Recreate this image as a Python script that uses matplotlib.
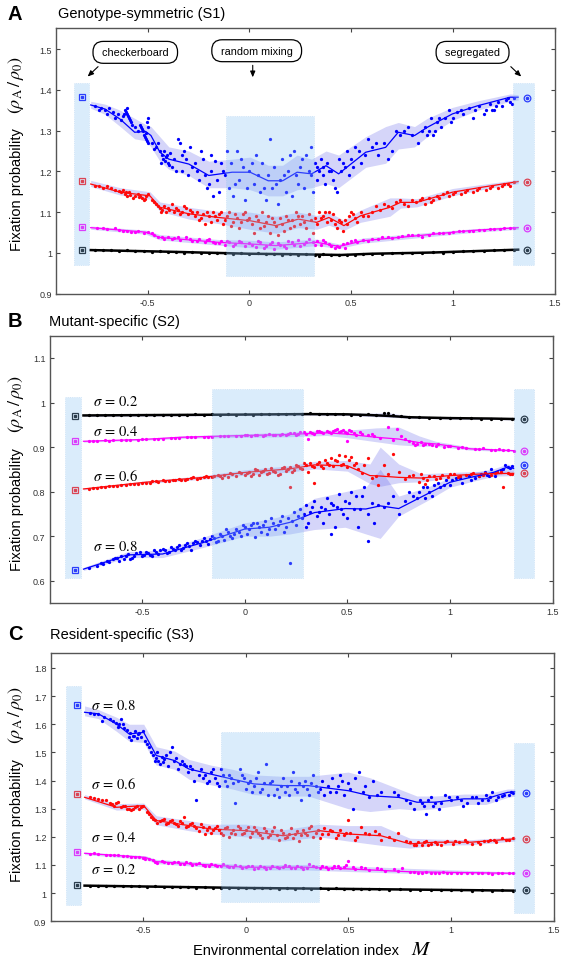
import numpy as np
import matplotlib
matplotlib.use('Agg')
import matplotlib.pyplot as plt
from matplotlib.patches import Rectangle
from matplotlib.ticker import FuncFormatter

plt.rcParams['font.family'] = ['Liberation Sans', 'DejaVu Sans']
plt.rcParams['mathtext.fontset'] = 'stix'

# ---------------- data ----------------
x_ticks = [-0.5, 0, 0.5, 1, 1.5]
A_yticks = [0.9, 1.0, 1.1, 1.2, 1.3, 1.4, 1.5]
B_yticks = [0.6, 0.7, 0.8, 0.9, 1.0, 1.1]
C_yticks = [0.9, 1.0, 1.1, 1.2, 1.3, 1.4, 1.5, 1.6, 1.7, 1.8]

panel_titles = ["Genotype-symmetric (S1)", "Mutant-specific (S2)", "Resident-specific (S3)"]
panel_letters = ["A", "B", "C"]
callout_labels = ["checkerboard", "random mixing", "segregated"]
sigma_labels = ["0.2", "0.4", "0.6", "0.8"]

# Panel A ------------------------------------------------------------
A_blue_tx = [-0.78, -0.71, -0.635, -0.564, -0.51, -0.484, -0.44, -0.396, -0.298, -0.2, -0.085, 0.003, 0.092, 0.163, 0.234, 0.305, 0.376, 0.438, 0.571, 0.669, 0.731, 0.811, 0.873, 0.997, 1.121, 1.281, 1.32]
A_blue_ty = [1.363, 1.353, 1.328, 1.296, 1.298, 1.288, 1.247, 1.230, 1.218, 1.190, 1.198, 1.198, 1.177, 1.177, 1.198, 1.194, 1.214, 1.194, 1.247, 1.259, 1.296, 1.288, 1.308, 1.341, 1.361, 1.382, 1.382]
A_blue_lo = [1.355, 1.34, 1.31, 1.28, 1.275, 1.26, 1.225, 1.205, 1.19, 1.16, 1.16, 1.155, 1.14, 1.14, 1.155, 1.16, 1.17, 1.16, 1.21, 1.22, 1.255, 1.26, 1.285, 1.325, 1.35, 1.372, 1.375]
A_blue_hi = [1.372, 1.365, 1.35, 1.33, 1.315, 1.31, 1.285, 1.26, 1.25, 1.225, 1.23, 1.235, 1.215, 1.215, 1.24, 1.23, 1.25, 1.24, 1.285, 1.31, 1.32, 1.31, 1.33, 1.357, 1.373, 1.39, 1.388]
A_blue_pts = [(-0.76,1.36),(-0.73,1.355),(-0.71,1.35),(-0.7,1.34),(-0.67,1.345),(-0.66,1.33),(-0.62,1.335),(-0.61,1.35),(-0.605,1.345),(-0.6,1.34),(-0.595,1.335),(-0.59,1.33),(-0.585,1.325),(-0.6,1.355),(-0.56,1.31),(-0.55,1.3),(-0.54,1.315),(-0.53,1.305),(-0.525,1.3),(-0.52,1.29),(-0.515,1.285),(-0.51,1.28),(-0.505,1.275),(-0.5,1.31),(-0.505,1.32),(-0.5,1.33),(-0.48,1.27),(-0.46,1.26),(-0.45,1.27),(-0.43,1.24),(-0.425,1.23),(-0.42,1.25),(-0.415,1.225),(-0.41,1.235),(-0.4,1.22),(-0.39,1.245),(-0.38,1.21),(-0.36,1.2),(-0.35,1.28),(-0.34,1.27),(-0.33,1.24),(-0.31,1.23),(-0.3,1.19),(-0.29,1.26),(-0.27,1.22),(-0.26,1.2),(-0.25,1.18),(-0.24,1.25),(-0.22,1.19),(-0.2,1.17),(-0.19,1.2),(-0.18,1.14),(-0.17,1.225),(-0.16,1.18),(-0.15,1.15),(-0.13,1.2),(-0.12,1.19),(-0.1,1.16),(-0.09,1.22),(-0.08,1.14),(-0.06,1.25),(-0.05,1.18),(-0.03,1.21),(-0.02,1.13),(0.0,1.2),(0.02,1.17),(0.03,1.24),(0.05,1.15),(0.06,1.22),(0.08,1.13),(0.09,1.19),(0.1,1.28),(0.11,1.16),(0.12,1.21),(0.14,1.12),(0.15,1.18),(0.16,1.23),(0.18,1.15),(0.19,1.2),(0.21,1.14),(0.22,1.25),(0.24,1.17),(0.25,1.21),(0.27,1.16),(0.28,1.24),(0.3,1.19),(0.31,1.15),(0.32,1.22),(0.33,1.18),(0.34,1.2),(0.35,1.23),(0.36,1.21),(0.37,1.17),(0.38,1.22),(0.4,1.2),(0.41,1.18),(0.42,1.16),(0.43,1.15),(0.45,1.2),(0.46,1.22),(0.47,1.21),(0.48,1.25),(0.5,1.23),(0.52,1.26),(0.55,1.22),(0.58,1.28),(0.6,1.26),(0.63,1.24),(0.66,1.27),(0.7,1.25),(0.72,1.3),(0.76,1.3),(0.8,1.29),(0.83,1.27),(0.86,1.31),(0.88,1.3),(0.89,1.33),(0.9,1.29),(0.92,1.32),(0.94,1.31),(0.96,1.33),(0.98,1.35),(1.0,1.33),(1.02,1.345),(1.05,1.34),(1.08,1.355),(1.1,1.33),(1.13,1.36),(1.16,1.35),(1.18,1.365),(1.2,1.35),(1.22,1.37),(1.24,1.36),(1.26,1.375),(1.28,1.37),(1.3,1.38)]
A_blue_pts_b = [(-0.74,1.35),(-0.69,1.355),(-0.645,1.34),(-0.63,1.325),(-0.615,1.34),(-0.58,1.32),(-0.575,1.315),(-0.535,1.31),(-0.51,1.295),(-0.5,1.27),(-0.47,1.255),(-0.44,1.25),(-0.435,1.22),(-0.405,1.24),(-0.395,1.215),(-0.37,1.23),(-0.33,1.2),(-0.32,1.25),(-0.28,1.21),(-0.23,1.23),(-0.21,1.16),(-0.19,1.24),(-0.14,1.22),(-0.11,1.25),(-0.07,1.17),(-0.04,1.23),(-0.01,1.16),(0.01,1.22),(0.04,1.19),(0.07,1.16),(0.13,1.17),(0.17,1.19),(0.2,1.24),(0.23,1.19),(0.26,1.23),(0.29,1.2),(0.3,1.26),(0.33,1.21),(0.36,1.19),(0.39,1.2),(0.44,1.23),(0.49,1.19),(0.51,1.21),(0.54,1.25),(0.57,1.24),(0.62,1.27),(0.68,1.23),(0.74,1.29),(0.78,1.31),(0.85,1.3),(0.87,1.29),(0.91,1.3),(0.93,1.33),(0.99,1.32),(1.04,1.35),(1.11,1.35),(1.15,1.34),(1.19,1.35),(1.21,1.36),(1.27,1.38),(1.29,1.365)]

A_red_tx = [-0.78, -0.635, -0.489, -0.44, -0.298, -0.153, 0.003, 0.13, 0.24, 0.33, 0.39, 0.464, 0.545, 0.69, 0.742, 0.822, 0.997, 1.14, 1.32]
A_red_ty = [1.169, 1.149, 1.140, 1.112, 1.096, 1.087, 1.079, 1.067, 1.083, 1.075, 1.087, 1.067, 1.091, 1.112, 1.124, 1.124, 1.149, 1.161, 1.175]
A_red_lo = [1.163, 1.142, 1.132, 1.102, 1.083, 1.072, 1.058, 1.048, 1.062, 1.058, 1.068, 1.055, 1.075, 1.09, 1.11, 1.113, 1.14, 1.155, 1.17]
A_red_hi = [1.178, 1.16, 1.15, 1.125, 1.112, 1.102, 1.1, 1.09, 1.1, 1.092, 1.1, 1.08, 1.105, 1.135, 1.135, 1.133, 1.158, 1.168, 1.18]
A_red_pts = [(-0.76,1.165),(-0.72,1.16),(-0.7,1.165),(-0.66,1.155),(-0.63,1.15),(-0.62,1.155),(-0.61,1.145),(-0.6,1.14),(-0.59,1.15),(-0.57,1.135),(-0.55,1.145),(-0.54,1.14),(-0.53,1.135),(-0.52,1.13),(-0.51,1.14),(-0.5,1.145),(-0.48,1.13),(-0.46,1.12),(-0.44,1.11),(-0.43,1.105),(-0.42,1.115),(-0.41,1.1),(-0.4,1.11),(-0.38,1.12),(-0.37,1.1),(-0.35,1.105),(-0.33,1.1),(-0.32,1.115),(-0.3,1.095),(-0.29,1.105),(-0.27,1.09),(-0.26,1.1),(-0.25,1.08),(-0.23,1.095),(-0.22,1.07),(-0.2,1.09),(-0.18,1.1),(-0.16,1.08),(-0.15,1.095),(-0.13,1.07),(-0.11,1.09),(-0.1,1.1),(-0.08,1.075),(-0.06,1.085),(-0.05,1.06),(-0.03,1.095),(-0.01,1.08),(0.01,1.07),(0.03,1.09),(0.05,1.06),(0.06,1.1),(0.08,1.075),(0.1,1.05),(0.11,1.085),(0.13,1.065),(0.14,1.045),(0.16,1.07),(0.18,1.09),(0.2,1.06),(0.21,1.08),(0.23,1.1),(0.25,1.07),(0.26,1.09),(0.28,1.06),(0.3,1.08),(0.31,1.05),(0.33,1.07),(0.34,1.1),(0.35,1.085),(0.36,1.09),(0.38,1.075),(0.39,1.1),(0.4,1.08),(0.42,1.07),(0.43,1.06),(0.45,1.075),(0.46,1.055),(0.47,1.08),(0.49,1.09),(0.5,1.1),(0.52,1.085),(0.55,1.1),(0.58,1.09),(0.62,1.115),(0.66,1.12),(0.7,1.11),(0.74,1.13),(0.78,1.115),(0.82,1.125),(0.84,1.13),(0.86,1.12),(0.88,1.135),(0.9,1.13),(0.92,1.14),(0.95,1.145),(0.98,1.14),(1.01,1.15),(1.04,1.145),(1.07,1.155),(1.1,1.15),(1.13,1.16),(1.16,1.155),(1.19,1.165),(1.22,1.16),(1.25,1.17),(1.28,1.165),(1.3,1.175)]
A_red_pts_b = [(-0.74,1.163),(-0.68,1.16),(-0.64,1.152),(-0.605,1.15),(-0.585,1.142),(-0.56,1.14),(-0.545,1.136),(-0.515,1.132),(-0.47,1.125),(-0.45,1.115),(-0.435,1.1),(-0.395,1.105),(-0.36,1.11),(-0.34,1.095),(-0.31,1.11),(-0.28,1.1),(-0.24,1.085),(-0.21,1.1),(-0.19,1.075),(-0.17,1.09),(-0.14,1.1),(-0.12,1.08),(-0.09,1.065),(-0.07,1.095),(-0.04,1.075),(-0.02,1.1),(0.0,1.085),(0.02,1.05),(0.04,1.08),(0.07,1.065),(0.09,1.09),(0.12,1.075),(0.15,1.085),(0.17,1.055),(0.19,1.08),(0.22,1.065),(0.24,1.09),(0.27,1.075),(0.29,1.095),(0.32,1.085),(0.37,1.1),(0.41,1.095),(0.44,1.08),(0.48,1.07),(0.51,1.095),(0.53,1.075),(0.56,1.09),(0.6,1.1),(0.64,1.105),(0.68,1.115),(0.72,1.125),(0.76,1.12),(0.8,1.13),(0.85,1.135),(0.89,1.125),(0.93,1.135),(0.97,1.15),(1.0,1.145),(1.06,1.15),(1.12,1.155),(1.18,1.16),(1.24,1.165),(1.27,1.17)]

A_mag_tx = [-0.78, -0.51, -0.44, -0.153, 0.003, 0.13, 0.33, 0.44, 0.56, 0.822, 1.09, 1.32]
A_mag_ty = [1.062, 1.051, 1.038, 1.026, 1.022, 1.018, 1.026, 1.016, 1.030, 1.042, 1.055, 1.062]
A_mag_lo = [1.058, 1.046, 1.032, 1.019, 1.013, 1.009, 1.018, 1.011, 1.024, 1.037, 1.05, 1.058]
A_mag_hi = [1.066, 1.056, 1.045, 1.033, 1.031, 1.027, 1.034, 1.022, 1.037, 1.048, 1.059, 1.066]
A_mag_pts = [(-0.75,1.06),(-0.7,1.058),(-0.66,1.06),(-0.62,1.055),(-0.58,1.052),(-0.55,1.054),(-0.52,1.05),(-0.5,1.052),(-0.47,1.045),(-0.45,1.04),(-0.42,1.035),(-0.4,1.04),(-0.37,1.036),(-0.34,1.032),(-0.31,1.038),(-0.28,1.03),(-0.25,1.034),(-0.22,1.028),(-0.2,1.033),(-0.17,1.025),(-0.14,1.03),(-0.12,1.02),(-0.1,1.028),(-0.07,1.022),(-0.05,1.03),(-0.02,1.018),(0.0,1.025),(0.03,1.015),(0.05,1.028),(0.07,1.012),(0.1,1.022),(0.12,1.01),(0.14,1.025),(0.17,1.016),(0.19,1.03),(0.22,1.02),(0.24,1.032),(0.27,1.022),(0.29,1.035),(0.31,1.026),(0.33,1.03),(0.35,1.02),(0.37,1.028),(0.4,1.018),(0.42,1.012),(0.44,1.015),(0.46,1.022),(0.48,1.025),(0.5,1.03),(0.53,1.028),(0.56,1.032),(0.6,1.035),(0.65,1.038),(0.7,1.036),(0.75,1.042),(0.8,1.045),(0.85,1.04),(0.9,1.048),(0.95,1.05),(1.0,1.052),(1.05,1.053),(1.1,1.055),(1.15,1.057),(1.2,1.058),(1.25,1.06),(1.3,1.062)]
A_mag_pts_b = [(-0.72,1.061),(-0.64,1.057),(-0.6,1.054),(-0.56,1.051),(-0.48,1.048),(-0.43,1.038),(-0.38,1.034),(-0.35,1.04),(-0.29,1.034),(-0.26,1.029),(-0.21,1.031),(-0.18,1.027),(-0.15,1.024),(-0.11,1.03),(-0.08,1.018),(-0.04,1.026),(0.01,1.02),(0.04,1.03),(0.08,1.018),(0.11,1.028),(0.15,1.02),(0.18,1.012),(0.21,1.026),(0.25,1.018),(0.28,1.028),(0.32,1.02),(0.36,1.032),(0.39,1.022),(0.43,1.018),(0.47,1.012),(0.52,1.032),(0.58,1.03),(0.63,1.034),(0.68,1.04),(0.73,1.038),(0.78,1.043),(0.83,1.044),(0.88,1.045),(0.93,1.049),(0.98,1.05),(1.03,1.054),(1.08,1.054),(1.13,1.056),(1.18,1.059),(1.23,1.059),(1.28,1.061)]

A_blk_tx = [-0.78, -0.4, 0.0, 0.2, 0.45, 0.6, 0.9, 1.32]
A_blk_ty = [1.007, 1.003, 0.998, 0.997, 0.995, 0.998, 1.001, 1.008]
A_blk_pts = [(-0.76,1.007),(-0.72,1.006),(-0.68,1.007),(-0.64,1.005),(-0.6,1.006),(-0.56,1.004),(-0.52,1.005),(-0.48,1.003),(-0.44,1.004),(-0.4,1.002),(-0.36,1.003),(-0.32,1.001),(-0.28,1.002),(-0.24,1.0),(-0.2,1.001),(-0.16,0.999),(-0.12,1.0),(-0.08,0.998),(-0.04,0.999),(0.0,0.997),(0.04,0.999),(0.08,0.997),(0.12,0.998),(0.16,0.996),(0.2,0.998),(0.24,0.996),(0.28,0.997),(0.32,0.995),(0.34,0.992),(0.36,0.997),(0.4,0.995),(0.44,0.994),(0.48,0.996),(0.52,0.995),(0.56,0.997),(0.6,0.998),(0.65,0.997),(0.7,0.999),(0.75,1.0),(0.8,0.999),(0.85,1.001),(0.9,1.002),(0.95,1.001),(1.0,1.003),(1.05,1.004),(1.1,1.005),(1.15,1.004),(1.2,1.006),(1.25,1.007),(1.3,1.008)]

A_left_end = [1.383, 1.177, 1.064, 1.007]     # blue, red, magenta, black
A_right_end = [1.380, 1.174, 1.062, 1.0065]

# Panel B ------------------------------------------------------------
B_blk_tx = [-0.785, -0.4, 0.0, 0.3, 0.5, 0.6, 0.7, 0.8, 1.0, 1.2, 1.31]
B_blk_ty = [0.971, 0.972, 0.973, 0.974, 0.9735, 0.972, 0.970, 0.967, 0.965, 0.964, 0.963]
B_blk_lo = [0.969, 0.970, 0.971, 0.972, 0.971, 0.969, 0.967, 0.965, 0.963, 0.962, 0.961]
B_blk_hi = [0.973, 0.974, 0.975, 0.976, 0.976, 0.976, 0.977, 0.970, 0.967, 0.966, 0.965]
B_blk_pts = [(-0.76,0.971),(-0.72,0.9715),(-0.68,0.971),(-0.64,0.972),(-0.6,0.9712),(-0.56,0.9718),(-0.52,0.971),(-0.48,0.972),(-0.44,0.9715),(-0.4,0.9722),(-0.36,0.972),(-0.32,0.9728),(-0.28,0.972),(-0.24,0.9732),(-0.2,0.9725),(-0.16,0.9735),(-0.12,0.9728),(-0.08,0.974),(-0.04,0.973),(0.0,0.9738),(0.04,0.973),(0.08,0.9742),(0.12,0.9735),(0.16,0.9745),(0.2,0.9738),(0.24,0.975),(0.28,0.974),(0.32,0.9755),(0.36,0.974),(0.4,0.9752),(0.44,0.9738),(0.48,0.9748),(0.52,0.973),(0.56,0.972),(0.6,0.974),(0.64,0.9715),(0.68,0.9755),(0.7,0.977),(0.72,0.971),(0.76,0.969),(0.8,0.968),(0.85,0.9665),(0.9,0.966),(0.95,0.9655),(1.0,0.965),(1.05,0.9648),(1.1,0.9645),(1.15,0.964),(1.2,0.964),(1.25,0.9635),(1.3,0.963)]

B_mag_tx = [-0.785, -0.5, -0.31, 0.0, 0.2, 0.4, 0.5, 0.64, 0.75, 0.85, 0.93, 1.1, 1.31]
B_mag_ty = [0.913, 0.917, 0.922, 0.926, 0.928, 0.932, 0.929, 0.922, 0.918, 0.910, 0.907, 0.896, 0.892]
B_mag_lo = [0.911, 0.915, 0.919, 0.922, 0.923, 0.926, 0.921, 0.912, 0.905, 0.902, 0.902, 0.893, 0.89]
B_mag_hi = [0.915, 0.919, 0.925, 0.930, 0.933, 0.938, 0.938, 0.943, 0.945, 0.925, 0.913, 0.9, 0.894]
B_mag_pts = [(-0.76,0.9135),(-0.72,0.914),(-0.68,0.915),(-0.64,0.9148),(-0.6,0.916),(-0.56,0.9155),(-0.52,0.917),(-0.48,0.9175),(-0.44,0.9185),(-0.4,0.919),(-0.36,0.9205),(-0.32,0.921),(-0.28,0.922),(-0.24,0.9225),(-0.2,0.923),(-0.16,0.9235),(-0.12,0.924),(-0.08,0.925),(-0.04,0.9245),(0.0,0.926),(0.03,0.924),(0.06,0.928),(0.09,0.925),(0.12,0.929),(0.15,0.926),(0.18,0.93),(0.2,0.927),(0.22,0.931),(0.25,0.928),(0.27,0.933),(0.3,0.93),(0.32,0.934),(0.34,0.929),(0.36,0.935),(0.38,0.931),(0.4,0.936),(0.42,0.932),(0.44,0.938),(0.46,0.934),(0.48,0.939),(0.5,0.931),(0.52,0.935),(0.54,0.928),(0.57,0.93),(0.6,0.926),(0.63,0.924),(0.66,0.92),(0.7,0.944),(0.72,0.915),(0.74,0.941),(0.78,0.918),(0.8,0.913),(0.83,0.905),(0.86,0.911),(0.88,0.908),(0.91,0.904),(0.94,0.906),(0.97,0.901),(1.0,0.903),(1.04,0.899),(1.08,0.898),(1.12,0.895),(1.16,0.897),(1.2,0.894),(1.24,0.895),(1.28,0.893),(1.31,0.892),(0.5,0.914),(0.31,0.918)]
B_mag_pts_b = [(-0.74,0.9138),(-0.66,0.9146),(-0.58,0.9158),(-0.5,0.9172),(-0.42,0.919),(-0.34,0.9208),(-0.26,0.9222),(-0.18,0.9232),(-0.1,0.9245),(-0.02,0.9255),(0.01,0.9275),(0.05,0.926),(0.1,0.927),(0.14,0.928),(0.17,0.9265),(0.21,0.929),(0.24,0.932),(0.26,0.929),(0.29,0.933),(0.33,0.931),(0.35,0.937),(0.37,0.933),(0.41,0.934),(0.43,0.935),(0.45,0.94),(0.47,0.936),(0.49,0.934),(0.51,0.938),(0.53,0.932),(0.56,0.934),(0.62,0.93),(0.76,0.925),(0.82,0.91),(0.84,0.908),(0.87,0.905),(0.9,0.907),(0.93,0.903),(0.99,0.902),(1.06,0.9),(1.14,0.896),(1.22,0.894),(1.26,0.893)]

B_red_tx = [-0.785, -0.485, -0.2, 0.0, 0.22, 0.34, 0.5, 0.61, 0.66, 0.75, 0.86, 1.0, 1.17, 1.31]
B_red_ty = [0.806, 0.821, 0.832, 0.843, 0.851, 0.860, 0.858, 0.836, 0.835, 0.832, 0.8305, 0.836, 0.840, 0.841]
B_red_lo = [0.804, 0.818, 0.828, 0.837, 0.844, 0.851, 0.846, 0.818, 0.812, 0.82, 0.822, 0.83, 0.834, 0.836]
B_red_hi = [0.808, 0.824, 0.836, 0.849, 0.858, 0.868, 0.87, 0.862, 0.900, 0.862, 0.84, 0.843, 0.846, 0.846]
B_red_pts = [(-0.76,0.807),(-0.72,0.809),(-0.68,0.811),(-0.64,0.812),(-0.6,0.814),(-0.56,0.816),(-0.52,0.818),(-0.5,0.82),(-0.48,0.819),(-0.45,0.823),(-0.42,0.822),(-0.4,0.825),(-0.37,0.824),(-0.34,0.827),(-0.31,0.826),(-0.28,0.829),(-0.26,0.83),(-0.23,0.828),(-0.2,0.833),(-0.18,0.832),(-0.15,0.836),(-0.12,0.834),(-0.1,0.838),(-0.08,0.833),(-0.06,0.84),(-0.04,0.836),(-0.02,0.842),(0.0,0.838),(0.02,0.845),(0.04,0.84),(0.06,0.848),(0.08,0.843),(0.1,0.85),(0.12,0.842),(0.14,0.847),(0.16,0.838),(0.18,0.852),(0.2,0.846),(0.22,0.855),(0.24,0.849),(0.26,0.858),(0.28,0.85),(0.3,0.86),(0.31,0.845),(0.32,0.865),(0.34,0.855),(0.36,0.867),(0.38,0.852),(0.4,0.865),(0.42,0.875),(0.43,0.858),(0.45,0.868),(0.46,0.882),(0.48,0.862),(0.49,0.88),(0.5,0.855),(0.51,0.87),(0.53,0.86),(0.55,0.85),(0.57,0.842),(0.22,0.81),(0.34,0.82),(0.6,0.875),(0.62,0.83),(0.65,0.815),(0.68,0.86),(0.72,0.885),(0.75,0.845),(0.78,0.828),(0.82,0.838),(0.85,0.822),(0.87,0.83),(0.88,0.818),(0.9,0.835),(0.93,0.828),(0.96,0.838),(0.99,0.832),(1.02,0.84),(1.05,0.835),(1.08,0.838),(1.11,0.842),(1.14,0.836),(1.17,0.842),(1.2,0.838),(1.23,0.844),(1.26,0.81),(1.28,0.842),(1.3,0.84)]
B_red_pts_b = [(-0.74,0.808),(-0.7,0.81),(-0.66,0.812),(-0.62,0.813),(-0.58,0.815),(-0.54,0.817),(-0.46,0.82),(-0.43,0.824),(-0.39,0.823),(-0.35,0.826),(-0.32,0.828),(-0.29,0.827),(-0.25,0.832),(-0.22,0.83),(-0.19,0.835),(-0.16,0.832),(-0.13,0.838),(-0.11,0.83),(-0.07,0.842),(-0.03,0.845),(0.01,0.842),(0.03,0.835),(0.05,0.85),(0.07,0.838),(0.09,0.846),(0.11,0.84),(0.13,0.853),(0.15,0.845),(0.17,0.84),(0.19,0.856),(0.21,0.85),(0.23,0.845),(0.25,0.86),(0.27,0.852),(0.29,0.865),(0.33,0.858),(0.35,0.862),(0.37,0.858),(0.39,0.87),(0.41,0.86),(0.44,0.872),(0.47,0.86),(0.52,0.878),(0.54,0.865),(0.58,0.86),(0.64,0.835),(0.7,0.84),(0.8,0.835),(0.86,0.84),(0.89,0.826),(0.92,0.835),(0.95,0.83),(1.0,0.84),(1.04,0.832),(1.1,0.84),(1.16,0.838),(1.22,0.842),(1.25,0.845),(1.29,0.84)]

B_blue_tx = [-0.785, -0.57, -0.4, -0.2, 0.0, 0.12, 0.22, 0.34, 0.49, 0.59, 0.66, 0.75, 0.89, 1.0, 1.1, 1.21, 1.28, 1.31]
B_blue_ty = [0.626, 0.658, 0.660, 0.686, 0.716, 0.720, 0.731, 0.753, 0.762, 0.761, 0.768, 0.762, 0.795, 0.821, 0.832, 0.843, 0.855, 0.852]
B_blue_lo = [0.623, 0.652, 0.652, 0.675, 0.70, 0.70, 0.705, 0.715, 0.72, 0.705, 0.695, 0.745, 0.78, 0.81, 0.822, 0.834, 0.845, 0.845]
B_blue_hi = [0.630, 0.665, 0.669, 0.698, 0.73, 0.738, 0.75, 0.785, 0.80, 0.81, 0.85, 0.79, 0.81, 0.831, 0.842, 0.851, 0.862, 0.858]
B_blue_pts = [(-0.76,0.628),(-0.72,0.634),(-0.69,0.637),(-0.66,0.642),(-0.64,0.648),(-0.62,0.65),(-0.6,0.655),(-0.59,0.648),(-0.57,0.66),(-0.55,0.652),(-0.53,0.662),(-0.5,0.655),(-0.48,0.665),(-0.46,0.658),(-0.44,0.668),(-0.42,0.66),(-0.4,0.672),(-0.38,0.663),(-0.36,0.676),(-0.34,0.668),(-0.32,0.68),(-0.3,0.673),(-0.28,0.684),(-0.26,0.668),(-0.24,0.69),(-0.22,0.68),(-0.2,0.695),(-0.18,0.683),(-0.16,0.7),(-0.14,0.688),(-0.12,0.705),(-0.1,0.692),(-0.08,0.71),(-0.06,0.695),(-0.04,0.715),(-0.02,0.7),(0.0,0.72),(0.01,0.705),(0.03,0.725),(0.05,0.698),(0.06,0.73),(0.08,0.71),(0.1,0.735),(0.11,0.705),(0.13,0.74),(0.15,0.715),(0.16,0.725),(0.18,0.745),(0.2,0.72),(0.21,0.74),(0.22,0.64),(0.24,0.755),(0.25,0.725),(0.27,0.76),(0.28,0.74),(0.3,0.77),(0.31,0.73),(0.32,0.755),(0.34,0.78),(0.35,0.745),(0.37,0.765),(0.38,0.73),(0.4,0.785),(0.41,0.75),(0.43,0.77),(0.44,0.72),(0.46,0.795),(0.47,0.76),(0.49,0.78),(0.5,0.74),(0.52,0.8),(0.53,0.76),(0.55,0.72),(0.57,0.79),(0.6,0.75),(0.63,0.73),(0.65,0.77),(0.68,0.765),(0.72,0.79),(0.75,0.75),(0.78,0.78),(0.82,0.79),(0.85,0.8),(0.87,0.81),(0.88,0.785),(0.9,0.8),(0.92,0.815),(0.95,0.81),(0.98,0.825),(1.0,0.815),(1.03,0.83),(1.06,0.82),(1.09,0.835),(1.12,0.83),(1.15,0.84),(1.18,0.838),(1.2,0.85),(1.22,0.835),(1.25,0.848),(1.27,0.86),(1.29,0.852),(1.3,0.858),(0.3,0.72),(0.42,0.705),(0.6,0.69)]
B_blue_pts_b = [(-0.7,0.64),(-0.67,0.645),(-0.63,0.652),(-0.61,0.645),(-0.58,0.655),(-0.56,0.648),(-0.54,0.656),(-0.51,0.665),(-0.49,0.658),(-0.47,0.662),(-0.45,0.655),(-0.43,0.665),(-0.41,0.668),(-0.39,0.67),(-0.37,0.665),(-0.35,0.672),(-0.33,0.675),(-0.31,0.67),(-0.29,0.68),(-0.27,0.678),(-0.25,0.685),(-0.23,0.688),(-0.21,0.69),(-0.19,0.69),(-0.17,0.693),(-0.15,0.696),(-0.13,0.69),(-0.11,0.7),(-0.09,0.715),(-0.07,0.7),(-0.05,0.705),(-0.03,0.71),(-0.01,0.725),(0.02,0.715),(0.04,0.73),(0.07,0.72),(0.09,0.725),(0.12,0.715),(0.14,0.73),(0.17,0.735),(0.19,0.71),(0.23,0.735),(0.26,0.745),(0.29,0.75),(0.33,0.765),(0.36,0.755),(0.39,0.76),(0.42,0.775),(0.45,0.765),(0.48,0.75),(0.51,0.775),(0.54,0.79),(0.56,0.76),(0.58,0.81),(0.62,0.775),(0.7,0.775),(0.8,0.8),(0.84,0.785),(0.89,0.81),(0.91,0.79),(0.94,0.82),(0.97,0.815),(1.01,0.825),(1.05,0.83),(1.1,0.825),(1.14,0.835),(1.17,0.845),(1.19,0.835),(1.23,0.845),(1.26,0.85),(1.28,0.856)]

B_left_end = [0.624, 0.804, 0.913, 0.970]     # blue, red, magenta, black
B_right_end = [0.8605, 0.842, 0.892, 0.963]

# Panel C ------------------------------------------------------------
C_blue_tx = [-0.785, -0.718, -0.63, -0.568, -0.497, -0.436, -0.347, -0.277, -0.171, -0.065, 0.04, 0.182, 0.305, 0.499, 0.605, 0.746, 0.834, 0.922, 1.063, 1.169, 1.275, 1.31]
C_blue_ty = [1.6425, 1.637, 1.601, 1.5655, 1.571, 1.489, 1.471, 1.441, 1.423, 1.405, 1.388, 1.382, 1.382, 1.364, 1.346, 1.340, 1.323, 1.323, 1.335, 1.335, 1.358, 1.36]
C_blue_lo = [1.63, 1.62, 1.575, 1.54, 1.535, 1.455, 1.44, 1.405, 1.385, 1.37, 1.35, 1.345, 1.345, 1.30, 1.29, 1.30, 1.295, 1.30, 1.315, 1.315, 1.34, 1.345]
C_blue_hi = [1.665, 1.652, 1.625, 1.6, 1.6, 1.52, 1.505, 1.475, 1.455, 1.44, 1.42, 1.415, 1.415, 1.43, 1.41, 1.37, 1.345, 1.345, 1.352, 1.352, 1.37, 1.37]
C_blue_pts = [(-0.76,1.64),(-0.72,1.636),(-0.7,1.61),(-0.66,1.62),(-0.63,1.605),(-0.62,1.59),(-0.61,1.62),(-0.6,1.6),(-0.58,1.58),(-0.57,1.555),(-0.56,1.545),(-0.55,1.56),(-0.54,1.575),(-0.53,1.55),(-0.52,1.57),(-0.5,1.575),(-0.49,1.54),(-0.47,1.52),(-0.45,1.49),(-0.44,1.47),(-0.43,1.5),(-0.42,1.46),(-0.41,1.485),(-0.4,1.475),(-0.38,1.45),(-0.37,1.5),(-0.36,1.52),(-0.34,1.48),(-0.33,1.44),(-0.31,1.47),(-0.3,1.46),(-0.28,1.43),(-0.27,1.45),(-0.25,1.4),(-0.24,1.33),(-0.22,1.44),(-0.2,1.42),(-0.19,1.39),(-0.17,1.43),(-0.15,1.41),(-0.13,1.38),(-0.12,1.44),(-0.1,1.4),(-0.08,1.42),(-0.06,1.39),(-0.05,1.32),(-0.03,1.44),(-0.01,1.41),(0.0,1.37),(0.02,1.4),(0.04,1.38),(0.06,1.43),(0.07,1.36),(0.09,1.39),(0.1,1.46),(0.11,1.35),(0.13,1.4),(0.15,1.37),(0.16,1.34),(0.18,1.41),(0.2,1.38),(0.21,1.35),(0.23,1.43),(0.24,1.37),(0.26,1.39),(0.27,1.33),(0.29,1.4),(0.3,1.37),(0.31,1.35),(0.33,1.42),(0.34,1.38),(0.35,1.36),(0.37,1.4),(0.4,1.38),(0.42,1.41),(0.44,1.36),(0.46,1.42),(0.48,1.35),(0.5,1.39),(0.52,1.3),(0.55,1.43),(0.57,1.36),(0.6,1.34),(0.62,1.4),(0.66,1.36),(0.7,1.31),(0.74,1.35),(0.78,1.33),(0.82,1.3),(0.85,1.33),(0.87,1.31),(0.88,1.28),(0.9,1.34),(0.92,1.32),(0.94,1.3),(0.97,1.35),(1.0,1.33),(1.03,1.34),(1.06,1.31),(1.1,1.34),(1.13,1.32),(1.17,1.35),(1.18,1.33),(1.2,1.36),(1.23,1.34),(1.26,1.35),(1.29,1.36),(1.3,1.355)]
C_blue_pts_b = [(-0.74,1.635),(-0.69,1.625),(-0.645,1.61),(-0.615,1.6),(-0.595,1.585),(-0.565,1.57),(-0.545,1.56),(-0.525,1.565),(-0.51,1.555),(-0.48,1.53),(-0.46,1.5),(-0.435,1.48),(-0.425,1.47),(-0.405,1.465),(-0.39,1.49),(-0.35,1.47),(-0.32,1.46),(-0.29,1.45),(-0.26,1.44),(-0.23,1.42),(-0.21,1.41),(-0.18,1.4),(-0.16,1.44),(-0.14,1.39),(-0.11,1.42),(-0.09,1.38),(-0.07,1.41),(-0.04,1.4),(-0.02,1.42),(0.01,1.39),(0.03,1.36),(0.05,1.41),(0.08,1.37),(0.12,1.39),(0.14,1.35),(0.17,1.38),(0.19,1.36),(0.22,1.4),(0.25,1.36),(0.28,1.38),(0.32,1.39),(0.36,1.37),(0.38,1.35),(0.41,1.36),(0.45,1.38),(0.47,1.4),(0.51,1.37),(0.53,1.41),(0.58,1.38),(0.64,1.35),(0.72,1.36),(0.8,1.32),(0.86,1.32),(0.89,1.33),(0.91,1.31),(0.95,1.32),(0.99,1.34),(1.05,1.33),(1.08,1.32),(1.12,1.34),(1.15,1.33),(1.19,1.34),(1.22,1.33),(1.25,1.345),(1.28,1.35)]

C_red_tx = [-0.785, -0.63, -0.497, -0.436, -0.277, -0.171, 0.0, 0.182, 0.358, 0.5, 0.658, 0.8, 0.922, 1.099, 1.31]
C_red_ty = [1.3405, 1.305, 1.311, 1.258, 1.24, 1.228, 1.222, 1.204, 1.222, 1.21, 1.204, 1.175, 1.181, 1.181, 1.193]
C_red_lo = [1.335, 1.295, 1.298, 1.243, 1.222, 1.21, 1.2, 1.185, 1.2, 1.185, 1.17, 1.16, 1.17, 1.172, 1.185]
C_red_hi = [1.35, 1.318, 1.32, 1.275, 1.258, 1.245, 1.245, 1.225, 1.245, 1.24, 1.24, 1.195, 1.192, 1.19, 1.2]
C_red_pts = [(-0.76,1.34),(-0.72,1.335),(-0.68,1.33),(-0.66,1.32),(-0.64,1.31),(-0.62,1.325),(-0.6,1.31),(-0.58,1.3),(-0.56,1.295),(-0.54,1.305),(-0.52,1.3),(-0.5,1.31),(-0.48,1.29),(-0.46,1.27),(-0.44,1.26),(-0.42,1.255),(-0.4,1.265),(-0.38,1.25),(-0.36,1.26),(-0.34,1.245),(-0.32,1.255),(-0.3,1.27),(-0.28,1.24),(-0.26,1.25),(-0.24,1.23),(-0.22,1.245),(-0.2,1.21),(-0.18,1.235),(-0.16,1.225),(-0.14,1.24),(-0.12,1.215),(-0.1,1.23),(-0.08,1.2),(-0.06,1.225),(-0.04,1.24),(-0.02,1.21),(0.0,1.225),(0.02,1.2),(0.04,1.235),(0.06,1.215),(0.08,1.195),(0.1,1.22),(0.12,1.205),(0.14,1.235),(0.16,1.19),(0.18,1.215),(0.2,1.2),(0.22,1.23),(0.24,1.21),(0.26,1.185),(0.28,1.225),(0.3,1.205),(0.32,1.24),(0.34,1.215),(0.36,1.195),(0.38,1.23),(0.4,1.21),(0.42,1.22),(0.44,1.195),(0.46,1.225),(0.48,1.205),(0.5,1.26),(0.51,1.215),(0.53,1.19),(0.56,1.235),(0.6,1.21),(0.63,1.22),(0.66,1.19),(0.7,1.2),(0.74,1.215),(0.78,1.185),(0.82,1.17),(0.84,1.18),(0.86,1.17),(0.88,1.185),(0.9,1.175),(0.92,1.18),(0.95,1.17),(0.98,1.185),(1.01,1.175),(1.04,1.18),(1.07,1.19),(1.1,1.175),(1.13,1.18),(1.16,1.185),(1.19,1.19),(1.22,1.18),(1.25,1.195),(1.28,1.19),(1.3,1.195)]
C_red_pts_b = [(-0.74,1.338),(-0.7,1.332),(-0.65,1.315),(-0.63,1.32),(-0.61,1.305),(-0.59,1.31),(-0.57,1.3),(-0.55,1.3),(-0.53,1.31),(-0.51,1.305),(-0.47,1.28),(-0.45,1.265),(-0.43,1.25),(-0.41,1.26),(-0.39,1.245),(-0.37,1.255),(-0.35,1.25),(-0.33,1.24),(-0.31,1.25),(-0.29,1.235),(-0.27,1.245),(-0.25,1.24),(-0.23,1.22),(-0.21,1.235),(-0.19,1.225),(-0.17,1.215),(-0.15,1.23),(-0.13,1.225),(-0.11,1.205),(-0.09,1.235),(-0.07,1.215),(-0.05,1.21),(-0.03,1.23),(-0.01,1.215),(0.01,1.235),(0.03,1.215),(0.05,1.225),(0.07,1.205),(0.09,1.23),(0.11,1.2),(0.13,1.22),(0.15,1.205),(0.17,1.225),(0.19,1.195),(0.21,1.21),(0.23,1.195),(0.25,1.22),(0.27,1.205),(0.29,1.215),(0.31,1.23),(0.33,1.2),(0.35,1.225),(0.37,1.21),(0.41,1.225),(0.45,1.205),(0.49,1.215),(0.54,1.2),(0.58,1.215),(0.65,1.21),(0.72,1.19),(0.8,1.18),(0.83,1.17),(0.87,1.18),(0.89,1.17),(0.93,1.175),(0.97,1.18),(1.02,1.185),(1.08,1.18),(1.14,1.175),(1.18,1.185),(1.21,1.19),(1.27,1.19)]

C_mag_tx = [-0.785, -0.489, -0.436, 0.0, 0.305, 0.5, 0.8, 1.31]
C_mag_ty = [1.1416, 1.127, 1.112, 1.092, 1.092, 1.086, 1.076, 1.0705]
C_mag_lo = [1.137, 1.12, 1.105, 1.083, 1.082, 1.077, 1.07, 1.067]
C_mag_hi = [1.146, 1.133, 1.12, 1.101, 1.102, 1.097, 1.088, 1.075]
C_mag_pts = [(-0.76,1.14),(-0.72,1.138),(-0.68,1.135),(-0.64,1.136),(-0.6,1.132),(-0.56,1.13),(-0.52,1.128),(-0.5,1.125),(-0.47,1.12),(-0.44,1.112),(-0.41,1.115),(-0.38,1.108),(-0.35,1.112),(-0.32,1.105),(-0.29,1.11),(-0.26,1.1),(-0.23,1.106),(-0.2,1.098),(-0.17,1.104),(-0.14,1.095),(-0.11,1.102),(-0.08,1.092),(-0.05,1.1),(-0.02,1.09),(0.01,1.098),(0.04,1.086),(0.07,1.095),(0.1,1.085),(0.13,1.096),(0.16,1.088),(0.19,1.1),(0.22,1.09),(0.25,1.098),(0.28,1.086),(0.31,1.102),(0.34,1.092),(0.37,1.097),(0.4,1.085),(0.43,1.095),(0.46,1.088),(0.49,1.1),(0.5,1.115),(0.53,1.085),(0.56,1.092),(0.6,1.082),(0.64,1.09),(0.68,1.078),(0.72,1.085),(0.76,1.09),(0.8,1.074),(0.84,1.072),(0.88,1.075),(0.92,1.071),(0.96,1.074),(1.0,1.07),(1.05,1.073),(1.1,1.07),(1.15,1.072),(1.2,1.069),(1.25,1.071),(1.3,1.07)]
C_mag_pts_b = [(-0.74,1.141),(-0.66,1.137),(-0.62,1.134),(-0.58,1.133),(-0.54,1.129),(-0.49,1.122),(-0.45,1.116),(-0.43,1.108),(-0.4,1.11),(-0.36,1.106),(-0.33,1.11),(-0.3,1.103),(-0.27,1.107),(-0.24,1.102),(-0.21,1.1),(-0.18,1.096),(-0.15,1.1),(-0.12,1.097),(-0.09,1.098),(-0.06,1.094),(-0.03,1.096),(0.0,1.093),(0.03,1.095),(0.06,1.09),(0.09,1.093),(0.12,1.09),(0.15,1.094),(0.18,1.092),(0.21,1.095),(0.24,1.088),(0.27,1.094),(0.3,1.09),(0.33,1.097),(0.36,1.088),(0.39,1.094),(0.42,1.09),(0.45,1.096),(0.48,1.092),(0.52,1.094),(0.58,1.088),(0.66,1.085),(0.74,1.08),(0.82,1.076),(0.86,1.073),(0.9,1.073),(0.94,1.072),(0.98,1.072),(1.03,1.071),(1.08,1.072),(1.13,1.07),(1.18,1.071),(1.23,1.07),(1.28,1.071)]

C_blk_tx = [-0.785, 0.0, 0.5, 1.31]
C_blk_ty = [1.0267, 1.0184, 1.015, 1.009]
C_blk_pts = [(-0.76,1.027),(-0.72,1.026),(-0.68,1.0265),(-0.64,1.025),(-0.6,1.026),(-0.56,1.024),(-0.52,1.025),(-0.48,1.023),(-0.44,1.024),(-0.4,1.022),(-0.36,1.023),(-0.32,1.021),(-0.28,1.022),(-0.24,1.02),(-0.2,1.021),(-0.16,1.019),(-0.12,1.02),(-0.08,1.018),(-0.04,1.019),(0.0,1.018),(0.04,1.019),(0.08,1.017),(0.12,1.018),(0.16,1.016),(0.2,1.018),(0.24,1.016),(0.28,1.017),(0.32,1.015),(0.36,1.017),(0.4,1.015),(0.44,1.018),(0.48,1.016),(0.52,1.014),(0.56,1.015),(0.6,1.013),(0.65,1.014),(0.7,1.012),(0.75,1.016),(0.8,1.011),(0.85,1.012),(0.9,1.01),(0.95,1.011),(1.0,1.01),(1.05,1.011),(1.1,1.009),(1.15,1.01),(1.2,1.009),(1.25,1.01),(1.3,1.009)]

C_left_end = [1.668, 1.3535, 1.1475, 1.029]   # blue, red, magenta, black
C_right_end = [1.356, 1.192, 1.0705, 1.0095]

# ---------------- styling / layout ----------------
COL = {'blue': '#0000ff', 'red': '#ff0a0a', 'mag': '#ff00ff', 'blk': '#000000'}
BAND = '#6464eb'
RECT = '#8cc4f5'
W, H = 566, 962

fig = plt.figure(figsize=(W / 100, H / 100), dpi=100)


def fx(px):
    return px / W


def fy(py):
    return 1 - py / H


def make_ax(l, r, t, b, ylim, yticks):
    ax = fig.add_axes([fx(l), fy(b), fx(r) - fx(l), (b - t) / H])
    ax.set_xlim(-0.95, 1.5)
    ax.set_ylim(*ylim)
    ax.set_xticks(x_ticks)
    ax.set_yticks(yticks)
    fmt = FuncFormatter(lambda v, p: f'{v:g}')
    ax.xaxis.set_major_formatter(fmt)
    ax.yaxis.set_major_formatter(fmt)
    ax.tick_params(direction='in', top=True, right=True, length=3, width=0.8,
                   labelsize=6.5, labelcolor='#333333', color='#444444', pad=3)
    for s in ax.spines.values():
        s.set_color('#555555')
        s.set_linewidth(1.0)
    return ax


def series(ax, color, tx, ty, pts, lo=None, hi=None, lw=0.9, ms=5.5):
    if lo is not None:
        ax.fill_between(tx, lo, hi, color=BAND, alpha=0.27, lw=0, zorder=1)
    p = np.array(pts)
    ax.scatter(p[:, 0], p[:, 1], s=ms, marker='o', color=color, lw=0, zorder=2)
    ax.plot(tx, ty, color=color, lw=lw, zorder=3)


def ends(ax, left, right, xl=-0.822, xr=1.362):
    cols = [COL['blue'], COL['red'], COL['mag'], COL['blk']]
    for c, yl, yr in zip(cols, left, right):
        ax.plot([xl], [yl], marker='s', ms=4.3, mfc='white', mec=c, mew=0.9, zorder=4)
        ax.plot([xl], [yl], marker='s', ms=1.8, color=c, zorder=4)
        ax.plot([xr], [yr], marker='o', ms=4.8, mfc='white', mec=c, mew=0.9, zorder=4)
        ax.plot([xr], [yr], marker='o', ms=1.6, color=c, zorder=4)


def rects(ax, boxes):
    for (x0, x1, y0, y1) in boxes:
        ax.add_patch(Rectangle((x0, y0), x1 - x0, y1 - y0, facecolor=RECT, alpha=0.32,
                               edgecolor='#7fb4e6', lw=0.6, ls=':', zorder=5))


def titles(letter, title, y, xt):
    fig.text(fx(8), fy(y), letter, fontsize=14.5, fontweight='bold', va='center', ha='left')
    fig.text(fx(xt), fy(y), title, fontsize=10.5, va='center', ha='left')


def ylab(ytext, ymath):
    fig.text(fx(17), fy(ytext), 'Fixation probability', rotation=90, fontsize=10.5,
             va='center', ha='center')
    fig.text(fx(16), fy(ymath), r'$(\rho_{\mathrm{A}}\,/\,\rho_0)$', rotation=90, fontsize=13,
             va='center', ha='center')


# ---------------- Panel A ----------------
axA = make_ax(56.1, 554.8, 29.3, 294.7, (0.9, 1.551), A_yticks)
series(axA, COL['blue'], A_blue_tx, A_blue_ty, A_blue_pts + A_blue_pts_b, A_blue_lo, A_blue_hi)
series(axA, COL['red'], A_red_tx, A_red_ty, A_red_pts + A_red_pts_b, A_red_lo, A_red_hi)
series(axA, COL['mag'], A_mag_tx, A_mag_ty, A_mag_pts + A_mag_pts_b, A_mag_lo, A_mag_hi)
series(axA, COL['blk'], A_blk_tx, A_blk_ty, A_blk_pts, lw=1.8)
ends(axA, A_left_end, A_right_end, xl=-0.822, xr=1.362)
rects(axA, [(-0.861, -0.787, 0.971, 1.418), (-0.117, 0.318, 0.944, 1.3365), (1.297, 1.396, 0.971, 1.418)])

box = dict(boxstyle='round,pad=0.55,rounding_size=0.95', fc='white', ec='black', lw=0.9)
call_pos = [(-0.561, 1.492), (0.0355, 1.496), (1.096, 1.492)]
arrows = [((-0.734, 1.4616), (-0.805, 1.428)), ((0.016, 1.467), (0.016, 1.424)), ((1.274, 1.4616), (1.345, 1.428))]
for lab, (cx, cy), (a0, a1) in zip(callout_labels, call_pos, arrows):
    axA.text(cx, cy, ' ' + lab + ' ', fontsize=7.8, ha='center', va='center', bbox=box, zorder=6)
    axA.annotate('', xy=a1, xytext=a0,
                 arrowprops=dict(arrowstyle='-|>,head_length=0.35,head_width=0.15', color='black', lw=0.8),
                 zorder=6)
titles('A', panel_titles[0], 14, 58)
ylab(190, 85)

# ---------------- Panel B ----------------
axB = make_ax(49.6, 552.7, 336.7, 604, (0.55, 1.15), B_yticks)
series(axB, COL['blue'], B_blue_tx, B_blue_ty, B_blue_pts + B_blue_pts_b, B_blue_lo, B_blue_hi)
series(axB, COL['red'], B_red_tx, B_red_ty, B_red_pts + B_red_pts_b, B_red_lo, B_red_hi)
series(axB, COL['mag'], B_mag_tx, B_mag_ty, B_mag_pts + B_mag_pts_b, B_mag_lo, B_mag_hi)
series(axB, COL['blk'], B_blk_tx, B_blk_ty, B_blk_pts, B_blk_lo, B_blk_hi, lw=1.8)
ends(axB, B_left_end, B_right_end, xl=-0.824, xr=1.362)
rects(axB, [(-0.873, -0.799, 0.605, 1.0117), (-0.157, 0.282, 0.605, 1.030), (1.31, 1.409, 0.605, 1.030)])
for lab, yy in zip(sigma_labels, [1.0045, 0.935, 0.836, 0.677]):
    axB.text(-0.741, yy, r'$\sigma\,=\,' + lab + '$', fontsize=10.5, ha='left', va='center', zorder=6)
titles('B', panel_titles[1], 322, 49)
ylab(510, 404)

# ---------------- Panel C ----------------
axC = make_ax(50.7, 553.7, 654.3, 922.3, (0.9, 1.852), C_yticks)
series(axC, COL['blue'], C_blue_tx, C_blue_ty, C_blue_pts + C_blue_pts_b, C_blue_lo, C_blue_hi)
series(axC, COL['red'], C_red_tx, C_red_ty, C_red_pts + C_red_pts_b, C_red_lo, C_red_hi)
series(axC, COL['mag'], C_mag_tx, C_mag_ty, C_mag_pts + C_mag_pts_b, C_mag_lo, C_mag_hi)
series(axC, COL['blk'], C_blk_tx, C_blk_ty, C_blk_pts, lw=1.8)
ends(axC, C_left_end, C_right_end, xl=-0.82, xr=1.363)
rects(axC, [(-0.877, -0.802, 0.958, 1.737), (-0.122, 0.358, 0.970, 1.571), (1.307, 1.406, 0.930, 1.534)])
for lab, yy in zip(sigma_labels, [1.086, 1.199, 1.391, 1.669]):
    axC.text(-0.753, yy, r'$\sigma\,=\,' + lab + '$', fontsize=10.5, ha='left', va='center', zorder=6)
titles('C', panel_titles[2], 635, 50)
ylab(821, 715)

fig.text(fx(296), fy(955), 'Environmental correlation index', fontsize=10.5, ha='center', va='baseline')
fig.text(fx(411), fy(955), r'$M$', fontsize=15, ha='left', va='baseline')

fig.savefig('out.png', dpi=100)
